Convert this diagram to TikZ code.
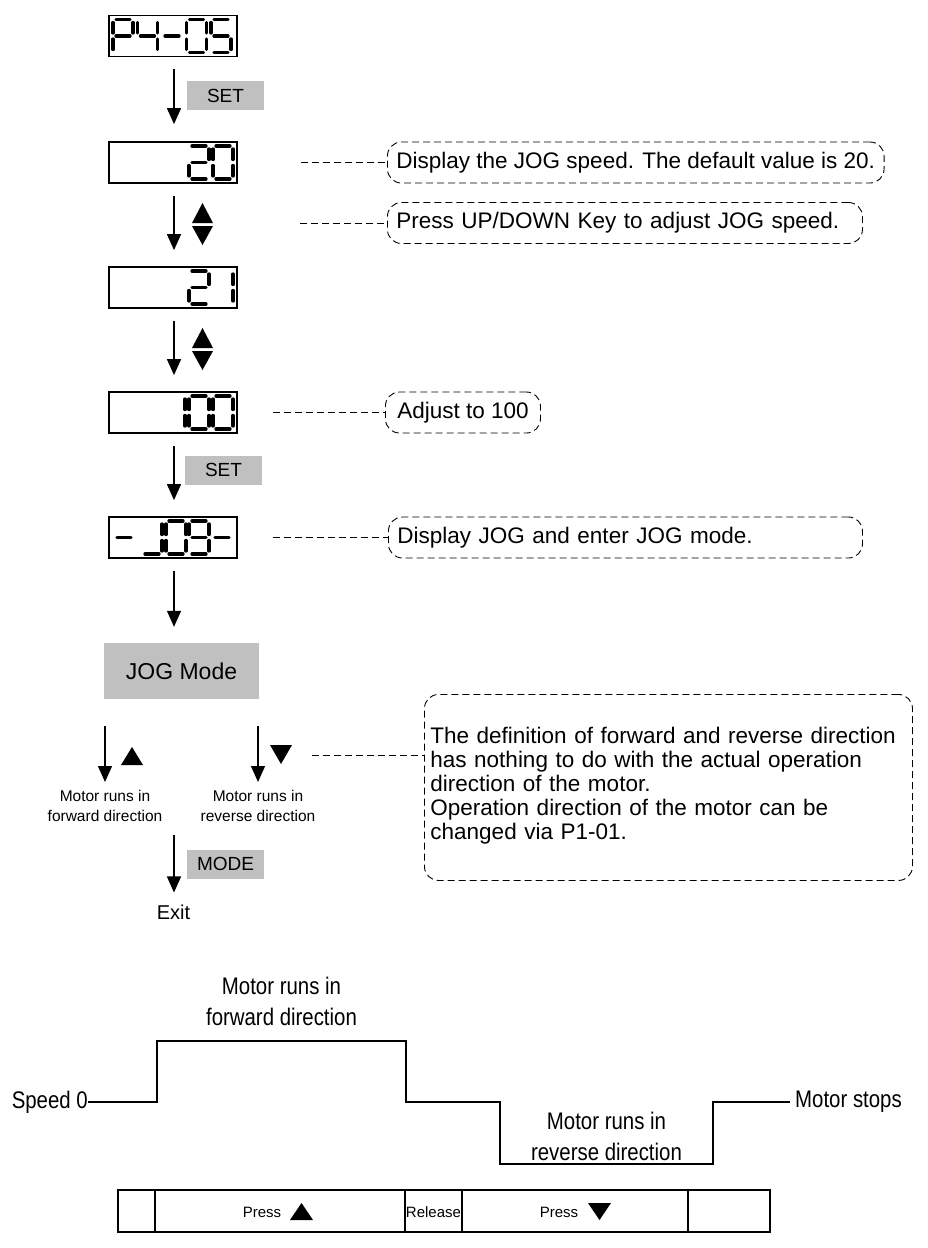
\documentclass[tikz,border=0pt]{standalone}
\usepackage{fontspec}
\setmainfont{Liberation Sans}
\newfontfamily\narrowfont[FakeStretch=0.85]{Liberation Sans}
\usetikzlibrary{arrows.meta,calc}
\definecolor{keygray}{RGB}{192,192,192}
\newcommand\fsCall{\fontsize{22.5}{24}\selectfont}
\newcommand\fsKey{\fontsize{19}{19}\selectfont}
\newcommand\fsSmall{\fontsize{15.5}{20}\selectfont}
\newcommand\fsWave{\narrowfont\fontsize{24}{31}\selectfont}
\newcommand\fsTab{\fontsize{15}{15}\selectfont}
% seven-segment pieces (cell 20 wide, 33 tall, y downward)
\newcommand\lcdsga{\draw[seg] (3,0)--(17,0);}
\newcommand\lcdsgb{\draw[seg] (20,3)--(20,13.5);}
\newcommand\lcdsgc{\draw[seg] (20,19.5)--(20,30);}
\newcommand\lcdsgd{\draw[seg] (3,33)--(17,33);}
\newcommand\lcdsge{\draw[seg] (0,19.5)--(0,30);}
\newcommand\lcdsgf{\draw[seg] (0,3)--(0,13.5);}
\newcommand\lcdsgg{\draw[seg] (3,16.5)--(17,16.5);}
\newcommand\lcdchar[3]{\begin{scope}[shift={(#1,#2)}]\foreach \s in {#3}{\csname lcdsg\s\endcsname}\end{scope}}
\tikzset{
  disp/.style={draw, line width=1.8pt, minimum width=128pt, minimum height=41pt, inner sep=0pt},
  seg/.style={line width=3.3pt, line cap=round},
  arr/.style={line width=1.3pt, -{Triangle[width=14pt,length=16pt]}},
  keybox/.style={fill=keygray, minimum width=77pt, minimum height=29pt, inner sep=0pt, font=\fsKey},
  callout/.style={draw, line width=0.9pt, dash pattern=on 7pt off 4pt, rounded corners=14pt, minimum height=41pt, inner xsep=9pt, inner ysep=2pt, font=\fsCall},
  lead/.style={line width=0.9pt, dash pattern=on 7pt off 4pt},
  lbl/.style={font=\fsSmall, align=center, inner sep=0pt},
  wlbl/.style={font=\fsWave, align=center, inner sep=0pt},
  wave/.style={line width=2.3pt},
  tbl/.style={line width=1.2pt},
}
\begin{document}
\begin{tikzpicture}[x=1pt,y=-1pt]
\useasboundingbox (0,0) rectangle (928,1248);
% ---- displays
\node[disp] (d1) at (173,36) {};
\node[disp] (d2) at (173,162.5) {};
\node[disp] (d3) at (173,287.5) {};
\node[disp] (d4) at (173,412.5) {};
\node[disp] (d5) at (173,537.5) {};
% P4-05
\lcdchar{113}{19.5}{a,b,e,f,g}
\lcdchar{137.5}{19.5}{b,c,f,g}
\lcdchar{162}{19.5}{g}
\lcdchar{186.5}{19.5}{a,b,c,d,e,f}
\lcdchar{211}{19.5}{a,c,d,f,g}
% 20
\lcdchar{189}{146}{a,b,d,e,g}
\lcdchar{213}{146}{a,b,c,d,e,f}
% 21
\lcdchar{189}{271}{a,b,d,e,g}
\lcdchar{213}{271}{b,c}
% 100
\lcdchar{165}{396}{b,c}
\lcdchar{189}{396}{a,b,c,d,e,f}
\lcdchar{213}{396}{a,b,c,d,e,f}
% -J09-
\lcdchar{114}{521}{g}
\lcdchar{142}{521}{b,c,d}
\lcdchar{166}{521}{a,b,c,d,e,f}
\lcdchar{189}{521}{a,b,c,d,f,g}
\lcdchar{212}{521}{g}
% ---- key boxes
\node[keybox] (set1) at (225.5,95.5) {SET};
\node[keybox] (set2) at (223.5,470) {SET};
\node[keybox, minimum width=155pt, minimum height=56pt, font=\fontsize{23}{23}\selectfont] (jog) at (181.5,671) {JOG Mode};
% ---- main arrows
\draw[arr] ($(d1.south)+(1,12)$) -- ($(d2.north)+(1,-17)$);
\draw[arr] ($(d2.south)+(1,12)$) -- ($(d3.north)+(1,-16)$);
\draw[arr] ($(d3.south)+(1,12)$) -- ($(d4.north)+(1,-16)$);
\draw[arr] ($(d4.south)+(1,12)$) -- ($(d5.north)+(1,-16)$);
\draw[arr] ($(d5.south)+(1,12)$) -- ($(d5.south |- jog.north)+(1,-16)$);
% up/down keys
\fill (192,223) -- (213,223) -- (202.5,203) -- cycle;
\fill (192,226) -- (213,226) -- (202.5,245) -- cycle;
\fill (192,348) -- (213,348) -- (202.5,328) -- cycle;
\fill (192,351) -- (213,351) -- (202.5,370) -- cycle;
% ---- callouts
\node[callout, anchor=west, minimum width=494pt] (c1) at (387,162.5) {Display the JOG speed. The default value is 20.};
\node[callout, anchor=west, minimum width=475pt, text width=457pt, align=left] (c2) at (387,223) {Press UP/DOWN Key to adjust JOG speed.};
\node[callout, anchor=west, minimum width=155pt] (c3) at (385,412.5) {Adjust to 100};
\node[callout, anchor=west, minimum width=474pt, text width=456pt, align=left] (c4) at (388,537.5) {Display JOG and enter JOG mode.};
\node[callout, anchor=north west, minimum width=488pt, minimum height=186pt, text width=476pt, inner xsep=6pt, align=left] (c5) at (424,694) {The definition of forward and reverse direction\\has nothing to do with the actual operation\\direction of the motor.\\Operation direction of the motor can be\\changed via P1-01.\\[-16pt]\mbox{}};
\coordinate (l2) at (300,223);
\coordinate (l5) at (312,755);
\draw[lead] ($(d2.east)+(63,0)$) -- (c1.west);
\draw[lead] (l2) -- (c2.west);
\draw[lead] ($(d4.east)+(35,0)$) -- (c3.west);
\draw[lead] ($(d5.east)+(35,0)$) -- (c4.west);
\draw[lead] (l5) -- (l5 -| c5.west);
% ---- JOG mode branches
\node[lbl, anchor=north] (fwd) at (105,790) {Motor runs in\\forward direction};
\node[lbl, anchor=north] (rev) at (258,790) {Motor runs in\\reverse direction};
\draw[arr] ($(fwd.north |- jog.south)+(0,27)$) -- ($(fwd.north)+(0,-8)$);
\draw[arr] ($(rev.north |- jog.south)+(0,27)$) -- ($(rev.north)+(0,-8)$);
\fill (121,765) -- (143,765) -- (132,747) -- cycle;
\fill (270,745) -- (292,745) -- (281,764) -- cycle;
% ---- MODE / Exit
\node[keybox] (mode) at (225.5,864) {MODE};
\node[font=\fontsize{20}{20}\selectfont, inner sep=0pt] (exit) at (173.5,912) {Exit};
\coordinate (m0) at (174,835);
\draw[arr] (m0) -- (m0 |- {$(exit.north)+(0,-12)$});
% ---- waveform
\node[wlbl, anchor=east] (s0) at (88,1102) {Speed 0};
\node[wlbl, anchor=west] (ms) at (795,1102) {Motor stops};
\draw[wave] (s0.east) -- (157,1102) -- (157,1041) -- (406,1041) -- (406,1102) -- (500,1102) -- (500,1164) -- (713,1164) -- (713,1102) -- ($(ms.west)+(-5,0)$);
\node[wlbl] (wf) at (281.5,1001) {Motor runs in\\forward direction};
\node[wlbl] (wr) at (606.5,1136) {Motor runs in\\reverse direction};
% ---- table
\draw[tbl] (118,1190) rectangle (770,1232);
\foreach \xx in {155,405,462,688} \draw[tbl] (\xx,1190) -- (\xx,1232);
\node[font=\fsTab, inner sep=0pt] (p1) at (262,1212) {Press};
\fill (290,1220) -- (313,1220) -- (301.5,1203) -- cycle;
\node[font=\fsTab, inner sep=0pt] (rl) at (433.5,1212) {Release};
\node[font=\fsTab, inner sep=0pt] (p2) at (559,1212) {Press};
\fill (588,1203) -- (611,1203) -- (599.5,1220) -- cycle;
\end{tikzpicture}
\end{document}
